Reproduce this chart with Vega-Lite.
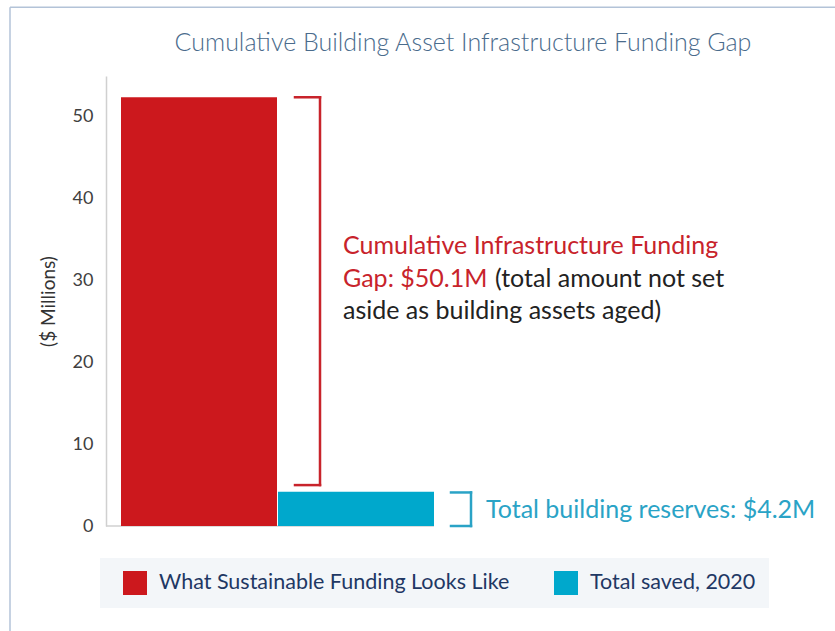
{
  "$schema": "https://vega.github.io/schema/vega-lite/v6.json",
  "autosize": "none",
  "width": 700,
  "height": 450,
  "padding": {"left": 106, "top": 76, "right": 29, "bottom": 105},
  "background": "white",
  "config": {"view": {"stroke": null}, "font": "Lato"},
  "datasets": {
    "bars": [
      {"series": "What Sustainable Funding Looks Like", "x0": 15, "x1": 171, "value": 52.4},
      {"series": "Total saved, 2020", "x0": 172, "x1": 328, "value": 4.2}
    ],
    "brackets": [
      {"part": "red-top", "xa": 189, "xb": 214, "ya": 52.4, "yb": 52.4, "c": "red"},
      {"part": "red-vert", "xa": 214, "xb": 214, "ya": 52.4, "yb": 5.0, "c": "red"},
      {"part": "red-bottom", "xa": 189, "xb": 214, "ya": 5.0, "yb": 5.0, "c": "red"},
      {"part": "blue-top", "xa": 345, "xb": 365, "ya": 4.1, "yb": 4.1, "c": "blue"},
      {"part": "blue-vert", "xa": 365, "xb": 365, "ya": 4.1, "yb": 0, "c": "blue"},
      {"part": "blue-bottom", "xa": 345, "xb": 365, "ya": 0, "yb": 0, "c": "blue"},
      {"part": "baseline", "xa": 0, "xb": 328, "ya": 0, "yb": 0, "c": "gray"},
      {"part": "frame-left", "xa": -96, "xb": -96, "ya": 63.4, "yb": -13, "c": "frame"},
      {"part": "frame-top", "xa": -96, "xb": 730, "ya": 63.4, "yb": 63.4, "c": "frame"}
    ],
    "labels": [
      {"t": "Cumulative Infrastructure Funding", "x": 237, "y": 34.2, "c": "red"},
      {"t": "Gap: $50.1M", "x": 237, "y": 30.2, "c": "red"},
      {"t": "(total amount not set", "x": 389, "y": 30.2, "c": "black"},
      {"t": "aside as building assets aged)", "x": 237, "y": 26.3, "c": "black"},
      {"t": "Total building reserves: $4.2M", "x": 380, "y": 1.96, "c": "blue"}
    ],
    "heading": [
      {"t": "Cumulative Building Asset Infrastructure Funding Gap", "x": 357, "y": 59.0}
    ]
  },
  "layer": [
    {
      "data": {"name": "brackets"},
      "transform": [{"filter": "datum.c == 'gray' || datum.c == 'frame'"}],
      "mark": {"type": "rule"},
      "encoding": {
        "x": {"field": "xa", "type": "quantitative", "scale": {"domain": [0, 700]}, "axis": null},
        "x2": {"field": "xb"},
        "y": {"field": "ya", "type": "quantitative"},
        "y2": {"field": "yb"},
        "color": {"field": "c", "type": "nominal", "scale": {"domain": ["red", "blue", "gray", "frame", "black"], "range": ["#c8232b", "#2aa3c6", "#d0d0d0", "#b3c3d8", "#222222"]}, "legend": null},
        "strokeWidth": {"value": 1.5}
      }
    },
    {
      "data": {"name": "bars"},
      "mark": {"type": "rect"},
      "encoding": {
        "x": {"field": "x0", "type": "quantitative", "scale": {"domain": [0, 700]}, "axis": null},
        "x2": {"field": "x1"},
        "y": {"field": "value", "type": "quantitative", "scale": {"domain": [0, 55], "nice": false}, "axis": {
          "title": "($ Millions)",
          "values": [0, 10, 20, 30, 40, 50],
          "ticks": false,
          "grid": false,
          "domainColor": "#d0d0d0",
          "domainWidth": 1.5,
          "labelPadding": 13,
          "labelFont": "Lato",
          "labelFontSize": 18,
          "labelColor": "#404040",
          "titleFont": "Lato",
          "titleFontSize": 19,
          "titleFontWeight": "normal",
          "titleColor": "#333333",
          "titlePadding": 14
        }},
        "y2": {"datum": 0},
        "fill": {
          "field": "series",
          "type": "nominal",
          "sort": ["What Sustainable Funding Looks Like", "Total saved, 2020"],
          "scale": {"domain": ["What Sustainable Funding Looks Like", "Total saved, 2020"], "range": ["#cc181d", "#00a8cc"]},
          "legend": {
            "orient": "none",
            "direction": "horizontal",
            "legendX": -6,
            "legendY": 482,
            "title": " ",
            "titleOrient": "left",
            "titlePadding": 10,
            "titleFontSize": 19,
            "padding": 13,
            "fillColor": "#f3f6f9",
            "symbolType": "square",
            "symbolSize": 576,
            "symbolStrokeWidth": 0,
            "symbolOpacity": 1,
            "labelFont": "Lato",
            "labelFontSize": 21.5,
            "labelColor": "#1f3864",
            "labelOffset": 12,
            "labelLimit": 500,
            "columnPadding": 44
          }
        }
      }
    },
    {
      "data": {"name": "brackets"},
      "transform": [{"filter": "datum.c == 'red' || datum.c == 'blue'"}],
      "mark": {"type": "rule", "strokeCap": "square"},
      "encoding": {
        "x": {"field": "xa", "type": "quantitative"},
        "x2": {"field": "xb"},
        "y": {"field": "ya", "type": "quantitative"},
        "y2": {"field": "yb"},
        "color": {"field": "c", "type": "nominal", "legend": null},
        "strokeWidth": {"value": 2.5}
      }
    },
    {
      "data": {"name": "labels"},
      "mark": {"type": "text", "align": "left", "baseline": "middle", "font": "Lato", "fontSize": 25},
      "encoding": {
        "x": {"field": "x", "type": "quantitative"},
        "y": {"field": "y", "type": "quantitative"},
        "text": {"field": "t"},
        "color": {"field": "c", "type": "nominal", "legend": null}
      }
    },
    {
      "data": {"name": "heading"},
      "mark": {"type": "text", "align": "center", "baseline": "middle", "font": "Lato", "fontSize": 25, "fontWeight": 300, "color": "#4a6b8c"},
      "encoding": {
        "x": {"field": "x", "type": "quantitative"},
        "y": {"field": "y", "type": "quantitative"},
        "text": {"field": "t"}
      }
    }
  ],
  "resolve": {"scale": {"color": "shared"}}
}
